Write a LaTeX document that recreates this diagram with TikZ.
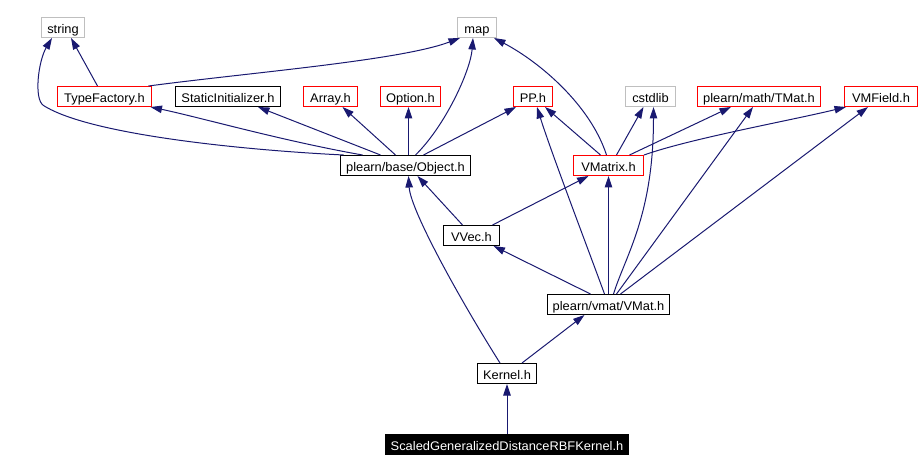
\documentclass[tikz,border=0pt]{standalone}
\usepackage{fontspec}
\setmainfont[FakeStretch=1.03]{Liberation Sans}
\usetikzlibrary{arrows.meta}
\definecolor{depblue}{HTML}{191970}

\begin{document}
\begin{tikzpicture}[x=1pt,y=-1pt,
  box/.style={draw=black,line width=1pt,inner sep=0pt,minimum height=20pt,text height=12pt,text depth=0pt,font=\fontsize{12.5}{14}\selectfont},
  redbox/.style={box,draw=red},
  greybox/.style={box,draw=black!25},
  dep/.style={draw=depblue,line width=1pt,-{Triangle[length=11.5pt,width=7.5pt,fill=depblue]}}]
\useasboundingbox (0,0) rectangle (921,470);
\begin{scope}[shift={(0.5,0.5)}]
\node[greybox,minimum width=43pt] (str) at (62.5,27) {string};
\node[greybox,minimum width=39pt] (map) at (476.5,27) {map};
\node[redbox,minimum width=94pt] (tf) at (104,96) {TypeFactory.h};
\node[box,minimum width=105pt] (si) at (227.5,96) {StaticInitializer.h};
\node[redbox,minimum width=54pt] (arr) at (330,96) {Array.h};
\node[redbox,minimum width=60pt] (opt) at (410,96) {Option.h};
\node[redbox,minimum width=39pt] (pp) at (532.5,96) {PP.h};
\node[greybox,minimum width=50pt] (cst) at (650,96) {cstdlib};
\node[redbox,minimum width=123pt] (tm) at (758.5,96) {plearn/math/TMat.h};
\node[redbox,minimum width=73pt] (vmf) at (880.5,96) {VMField.h};
\node[box,minimum width=130pt] (obj) at (405,165) {plearn/base/Object.h};
\node[redbox,minimum width=70pt] (vmx) at (608,165) {VMatrix.h};
\node[box,minimum width=56pt] (vv) at (471,235) {VVec.h};
\node[box,minimum width=122pt] (vm) at (608,304) {plearn/vmat/VMat.h};
\node[box,minimum width=59pt] (ker) at (506.5,373) {Kernel.h};
\node[box,fill=black,text=white,minimum width=243pt] (sc) at (506.5,443.5) {ScaledGeneralizedDistanceRBFKernel.h};
\draw[dep] ([xshift=-7pt]tf.north) -- ([xshift=8pt]str.south);
\draw[dep] ([xshift=44pt]tf.north) .. controls (250,72) and (400,60) .. ([xshift=-17pt]map.south);
\draw[dep] ([xshift=-62pt]obj.north) .. controls (250,150) and (90,135) .. (43,105) .. controls (33,98.6) and (38,60) .. ([xshift=-11pt]str.south);
\draw[dep] ([xshift=-43pt]obj.north) .. controls (280,140) and (200,117) .. ([xshift=46pt]tf.south);
\draw[dep] ([xshift=-25pt]obj.north) -- ([xshift=30pt]si.south);
\draw[dep] ([xshift=-10pt]obj.north) -- ([xshift=12pt]arr.south);
\draw[dep] ([xshift=3pt]obj.north) -- ([xshift=-2pt]opt.south);
\draw[dep] ([xshift=10pt]obj.north) .. controls (445,125) and (470,70) .. ([xshift=-4pt]map.south);
\draw[dep] ([xshift=18pt]obj.north) -- ([xshift=-17pt]pp.south);
\draw[dep] ([xshift=-2pt]vmx.north) .. controls (590,105) and (540,62) .. ([xshift=17pt]map.south);
\draw[dep] ([xshift=-8pt]vmx.north) -- ([xshift=12pt]pp.south);
\draw[dep] ([xshift=8pt]vmx.north) -- ([xshift=-7pt]cst.south);
\draw[dep] ([xshift=21pt]vmx.north) -- ([xshift=-28pt]tm.south);
\draw[dep] (vmx.north east) .. controls (690,138) and (790,120) .. ([xshift=-35pt]vmf.south);
\draw[dep] ([xshift=-9pt]vv.north) -- ([xshift=12pt]obj.south);
\draw[dep] ([xshift=21pt]vv.north) -- ([xshift=-20pt]vmx.south);
\draw[dep] ([xshift=-18pt]vm.north) -- ([xshift=22pt]vv.south);
\draw[dep] ([xshift=-4pt]vm.north) .. controls (590,255) and (550,150) .. ([xshift=4pt]pp.south);
\draw[dep] (vm.north) -- (vmx.south);
\draw[dep] ([xshift=5pt]vm.north) .. controls (625,255) and (653,215) .. ([xshift=3pt]cst.south);
\draw[dep] ([xshift=8pt]vm.north) -- ([xshift=-6pt]tm.south);
\draw[dep] ([xshift=12pt]vm.north) -- ([xshift=-13pt]vmf.south);
\draw[dep] ([xshift=-7pt]ker.north) .. controls (460,300) and (410,210) .. ([xshift=3pt]obj.south);
\draw[dep] ([xshift=15pt]ker.north) -- ([xshift=-24pt]vm.south);
\draw[dep] (sc.north) -- (ker.south);
\end{scope}
\end{tikzpicture}
\end{document}
